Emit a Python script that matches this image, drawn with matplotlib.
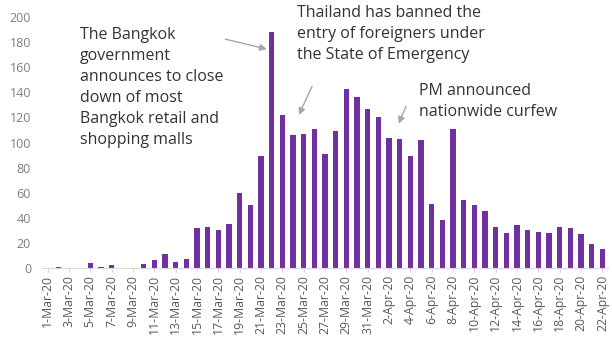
import matplotlib
matplotlib.use("Agg")
import matplotlib.pyplot as plt
import numpy as np
import pandas as pd

dates = pd.date_range("2020-03-01", "2020-04-22", freq="D")
labels = [f"{d.day}-{d.strftime('%b')}-20" for d in dates]
cases = [0, 1, 0, 0, 4, 1, 2, 0, 0, 3, 6, 11, 5, 7, 32, 33, 30, 35, 60, 50,
         89, 188, 122, 106, 107, 111, 91, 109, 143, 136, 127, 120,
         104, 103, 89, 102, 51, 38, 111, 54, 50, 45, 33, 28, 34, 30, 29, 28,
         33, 32, 27, 19, 15]

ann_texts = ["The Bangkok\ngovernment\nannounces to close\ndown of most\nBangkok retail and\nshopping malls",
             "Thailand has banned the\nentry of foreigners under\nthe State of Emergency",
             "PM announced\nnationwide curfew"]

plt.rcParams['font.family'] = ['Open Sans', 'DejaVu Sans']

fig = plt.figure(figsize=(6.12, 3.43), dpi=100)
ax = fig.add_axes([0.069, 0.219, 0.924, 0.731])
x = np.arange(len(cases))
ax.bar(x, cases, width=0.5, color="#7030A0")
ax.set_xlim(-0.5, len(cases) - 0.5)
ax.set_ylim(0, 200)
ax.set_yticks(range(0, 201, 20))
ax.set_xticks(x[::2])
ax.set_xticklabels(labels[::2], rotation=90, fontsize=8.8, color="#595959")
ax.tick_params(axis='y', length=0, labelsize=9, labelcolor="#7F7F7F", pad=8)
ax.tick_params(axis='x', length=3, color="#D9D9D9", pad=2)
for s in ["top", "right", "left"]:
    ax.spines[s].set_visible(False)
ax.spines["bottom"].set_color("#D9D9D9")

tc = "#333333"
ac = dict(arrowstyle="-|>", color="#A6A6A6", lw=1.0, mutation_scale=10)
fs = 11.5
# annotation 1
ax.annotate("", xy=(20.8, 174), xytext=(16.4, 183), arrowprops=ac)
fig.text(80 / 612, 1 - 27 / 343, ann_texts[0], fontsize=fs, color=tc,
         va="top", ha="left", linespacing=1.42)
# annotation 2
ax.annotate("", xy=(23.45, 120), xytext=(24.9, 147), arrowprops=ac)
fig.text(297 / 612, 1 - 5 / 343, ann_texts[1], fontsize=fs, color=tc,
         va="top", ha="left", linespacing=1.42)
# annotation 3
ax.annotate("", xy=(32.8, 113), xytext=(33.7, 131), arrowprops=ac)
fig.text(419 / 612, 1 - 83 / 343, ann_texts[2], fontsize=fs, color=tc,
         va="top", ha="left", linespacing=1.42)

fig.savefig("out.png", dpi=100)
